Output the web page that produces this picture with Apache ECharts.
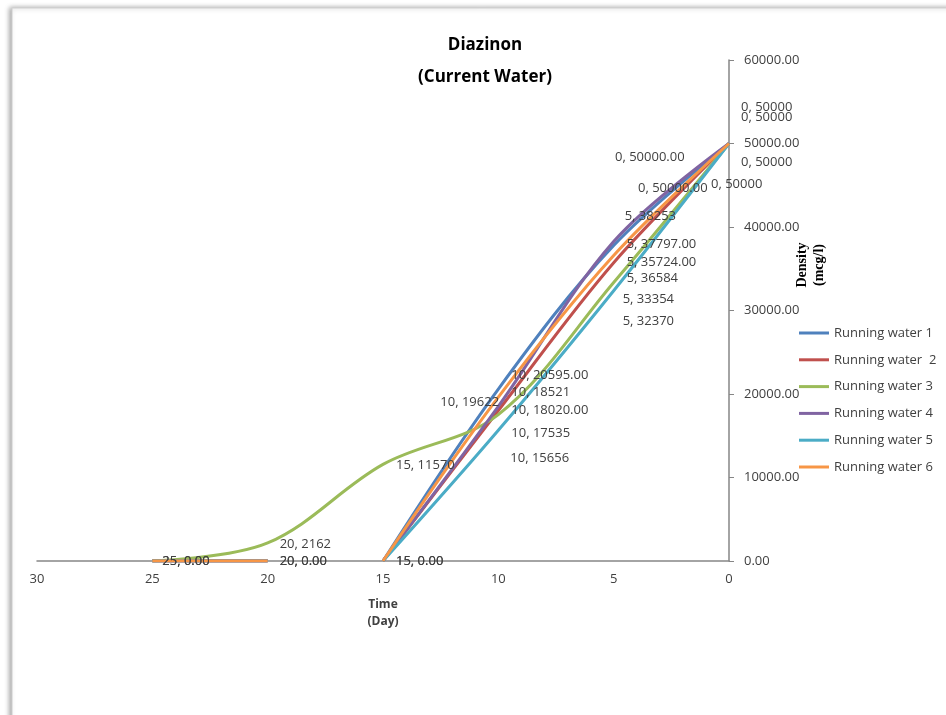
<!DOCTYPE html>
<html>
<head>
<meta charset="utf-8">
<script src="https://cdn.jsdelivr.net/npm/echarts@6/dist/echarts.min.js"></script>
<style>
  html, body { margin: 0; padding: 0; background: #ffffff; }
  #chart { width: 946px; height: 715px; }
</style>
</head>
<body>
<div id="chart"></div>
<script>
// Sampling days (time counted back from day 0)
const days = [0, 5, 10, 15, 20, 25];

// Density readings (mcg/l) per running-water sample
const runningWater1 = [50000, 37797, 20595, 0, 0, 0];
const runningWater2 = [50000, 35724, 18020, 0, 0, 0];
const runningWater3 = [50000, 33354, 17535, 11570, 2162, 0];
const runningWater4 = [50000, 38253, 18521, 0, 0, 0];
const runningWater5 = [50000, 32370, 15656, 0, 0, 0];
const runningWater6 = [50000, 36584, 19622, 0, 0, 0];

const seriesNames = ['Running water 1', 'Running water  2', 'Running water 3',
                     'Running water 4', 'Running water 5', 'Running water 6'];
const seriesValues = [runningWater1, runningWater2, runningWater3,
                      runningWater4, runningWater5, runningWater6];
// Samples that reached zero are not joined across the 15-20 day interval
const brokenBetween = [true, true, false, true, true, true];
// Which samples print their labels with two decimals
const twoDecimals = [true, true, false, false, false, false];

const colors = ['#4F81BD', '#C0504D', '#9BBB59', '#8064A2', '#4BACC6', '#F79646'];

const yTicks = [0, 10000, 20000, 30000, 40000, 50000, 60000];
const xTicks = [0, 5, 10, 15, 20, 25, 30];

// Label nudges, keyed by series index then by day
const labelNudge = {
  0: {0: [-119, 14], 5: [8, -1], 10: [8, -14], 15: [8, 0], 20: [7, 0], 25: [5, 0]},
  1: {0: [-96, 45], 5: [8, 0], 10: [8, 0], 15: [8, 0], 20: [7, 0], 25: [5, 0]},
  2: {0: [7, -26], 5: [4, 17], 10: [8, 19], 15: [8, 1], 20: [7, 1]},
  3: {0: [7, -36], 5: [6, -25], 10: [8, -14]},
  4: {0: [7, 19], 5: [4, 31], 10: [7, 28]},
  5: {0: [-23, 41], 5: [8, 23], 10: [-63, 5]}
};

const FONT = '"Open Sans", "Noto Sans", sans-serif';
const TEXT = '#404040';

function buildSeries(i) {
  const vals = seriesValues[i];
  const data = [];
  days.forEach((d, k) => {
    if (brokenBetween[i] && d === 20) data.push(['-', '-']);
    const v = vals[k];
    const nudge = labelNudge[i][d];
    const item = { value: [d, v] };
    if (nudge) {
      item.label = { show: true, offset: nudge };
    }
    data.push(item);
  });
  return {
    name: seriesNames[i],
    type: 'line',
    smooth: 0.35,
    connectNulls: false,
    symbol: 'circle',
    symbolSize: 0,
    showSymbol: true,
    color: colors[i],
    lineStyle: { width: 3, color: colors[i] },
    itemStyle: { color: colors[i] },
    label: {
      show: false,
      position: 'right',
      distance: 5,
      color: TEXT,
      fontFamily: FONT,
      fontSize: 13,
      formatter: p => p.value[0] + ', ' + (twoDecimals[i] ? p.value[1].toFixed(2) : String(p.value[1]))
    },
    emphasis: { disabled: true },
    animation: false,
    data: data
  };
}

const chart = echarts.init(document.getElementById('chart'), null, { renderer: 'canvas' });
chart.setOption({
  backgroundColor: '#ffffff',
  animation: false,
  graphic: [
    {
      type: 'rect',
      z: -10,
      shape: { x: 12, y: 8, width: 960, height: 740 },
      style: {
        fill: '#ffffff',
        stroke: '#d0d0d0',
        lineWidth: 1,
        shadowBlur: 5,
        shadowOffsetX: -2,
        shadowOffsetY: 0,
        shadowColor: 'rgba(0,0,0,0.35)'
      },
      silent: true
    },
    {
      type: 'text',
      x: 811,
      y: 265,
      rotation: Math.PI / 2,
      style: {
        text: 'Density\n(mcg/l)',
        fill: '#000000',
        font: 'bold 14px "Liberation Serif", "DejaVu Serif", serif',
        lineHeight: 17,
        align: 'center',
        verticalAlign: 'middle'
      },
      silent: true
    }
  ],
  title: {
    text: 'Diazinon\n(Current Water)',
    left: 480,
    top: 24,
    textAlign: 'center',
    textStyle: {
      fontFamily: FONT,
      fontWeight: 'bold',
      fontSize: 17,
      lineHeight: 32,
      color: '#000000'
    }
  },
  legend: {
    orient: 'vertical',
    left: 794,
    top: 320,
    itemWidth: 30,
    itemHeight: 3,
    itemGap: 10.8,
    icon: 'rect',
    textStyle: { fontFamily: FONT, fontSize: 13, color: TEXT, lineHeight: 16 },
    data: seriesNames
  },
  grid: { left: 37, right: 217, top: 60, bottom: 154, containLabel: false },
  xAxis: {
    type: 'value',
    inverse: true,
    min: 0,
    max: 30,
    interval: 5,
    name: 'Time\n(Day)',
    nameLocation: 'middle',
    nameGap: 35,
    nameTextStyle: { fontFamily: FONT, fontWeight: 'bold', fontSize: 12, color: TEXT, lineHeight: 17 },
    axisLine: { show: true, onZero: false, lineStyle: { color: '#868686', width: 1.5 } },
    axisTick: { show: false },
    splitLine: { show: false },
    axisLabel: {
      color: TEXT, fontFamily: FONT, fontSize: 13, margin: 12,
      formatter: v => xTicks.includes(v) ? String(v) : ''
    }
  },
  yAxis: {
    type: 'value',
    position: 'right',
    min: 0,
    max: 60000,
    interval: 10000,
    axisLine: { show: true, lineStyle: { color: '#868686', width: 1.5 } },
    axisTick: { show: true, length: 5, lineStyle: { color: '#868686' } },
    splitLine: { show: false },
    axisLabel: {
      color: TEXT, fontFamily: FONT, fontSize: 13, margin: 15,
      formatter: v => yTicks.includes(v) ? v.toFixed(2) : ''
    }
  },
  series: seriesValues.map((_, i) => buildSeries(i))
});
</script>
</body>
</html>
